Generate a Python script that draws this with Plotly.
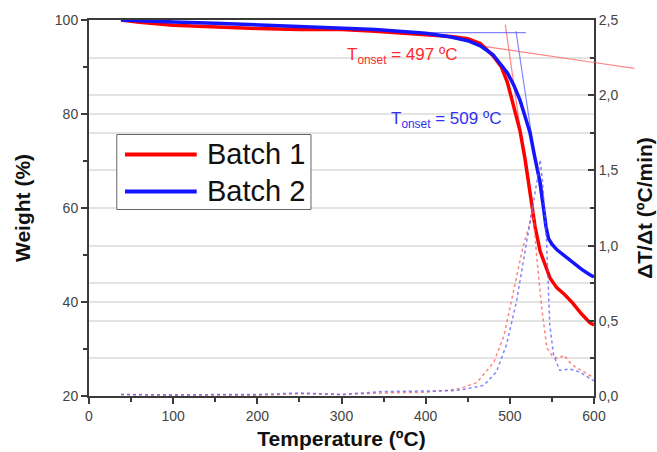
import plotly.graph_objects as go

# ---- data ----
temp_b1 = [38, 60, 100, 150, 200, 250, 300, 340, 400, 430, 450, 465, 480, 490, 497, 505, 512, 518, 524, 530, 536, 542, 548, 556, 565, 575, 585, 595, 600]
weight_b1 = [100, 99.5, 98.9, 98.5, 98.2, 98.0, 98.0, 97.6, 96.9, 96.5, 96.0, 95.0, 92.4, 90.0, 86.8, 81.5, 76.5, 70.5, 63.5, 56.0, 50.8, 48.0, 45.0, 43.0, 41.6, 39.7, 37.5, 35.6, 35.1]

temp_b2 = [38, 60, 100, 150, 200, 250, 300, 340, 400, 430, 450, 465, 480, 490, 497, 505, 512, 518, 524, 530, 536, 540, 543, 546, 550, 556, 565, 575, 585, 595, 600]
weight_b2 = [100, 99.8, 99.6, 99.3, 99.0, 98.7, 98.3, 98.0, 97.2, 96.4, 95.6, 94.5, 92.6, 90.5, 88.8, 86.0, 83.0, 79.5, 76.0, 70.5, 65.4, 60.0, 56.0, 53.5, 52.3, 51.1, 49.8, 48.3, 47.0, 45.8, 45.3]

dtemp_b1 = [38, 100, 150, 200, 250, 300, 350, 400, 430, 441, 461, 481, 493, 504, 516, 523.5, 527, 532, 538, 544, 550, 556, 561, 565, 570, 576, 588, 600]
deriv_b1 = [0.01, 0.01, 0.01, 0.005, 0.015, 0.01, 0.02, 0.025, 0.04, 0.05, 0.09, 0.225, 0.40, 0.69, 1.0, 1.14, 1.27, 0.92, 0.58, 0.32, 0.27, 0.25, 0.26, 0.27, 0.23, 0.20, 0.16, 0.12]

dtemp_b2 = [38, 100, 150, 200, 250, 300, 350, 400, 430, 441, 469, 484, 496, 508, 518, 524, 532, 536, 539, 543.5, 547.5, 552, 559.5, 571, 583, 600]
deriv_b2 = [0.01, 0.005, 0.01, 0.01, 0.02, 0.01, 0.03, 0.03, 0.035, 0.04, 0.07, 0.16, 0.34, 0.63, 0.96, 1.14, 1.42, 1.57, 1.42, 1.04, 0.47, 0.27, 0.17, 0.18, 0.16, 0.10]

# tangent construction lines (onset determination)
tan_b1_base_x = [469, 648]
tan_b1_base_y = [94.4, 89.7]
tan_b1_steep_x = [494.6, 521]
tan_b1_steep_y = [99.0, 66.0]
tan_b2_base_x = [354, 519]
tan_b2_base_y = [97.3, 97.3]
tan_b2_steep_x = [507.3, 538]
tan_b2_steep_y = [97.6, 61.0]

series_names = ["Batch 1", "Batch 2"]
onset_labels = ["T<sub>onset</sub> = 497 ºC", "T<sub>onset</sub> = 509 ºC"]
onset_pos_x = [304, 357]
onset_pos_y = [92.4, 78.8]

X_RANGE = [0, 600]
Y_RANGE = [20, 100]
Y2_RANGE = [0, 2.5]

RED = "#ff0000"
BLUE = "#1414ff"
LRED = "rgba(255,90,90,0.75)"
LBLUE = "rgba(90,90,255,0.75)"
FONT = "Liberation Sans, Arial, sans-serif"

fig = go.Figure()

# derivative curves (right axis, dotted)
fig.add_trace(go.Scatter(x=dtemp_b1, y=deriv_b1, yaxis="y2", mode="lines",
                         line=dict(color=LRED, width=1.5, dash="dot"), showlegend=False,
                         name=series_names[0] + " ΔT/Δt"))
fig.add_trace(go.Scatter(x=dtemp_b2, y=deriv_b2, yaxis="y2", mode="lines",
                         line=dict(color=LBLUE, width=1.5, dash="dot"), showlegend=False,
                         name=series_names[1] + " ΔT/Δt"))

# tangent lines
def clip_to_range(xs, ys):
    x0, x1 = xs
    y0, y1 = ys
    if x1 > X_RANGE[1]:
        y1 = y0 + (y1 - y0) * (X_RANGE[1] - x0) / (x1 - x0)
        x1 = X_RANGE[1]
    return [x0, x1], [y0, y1]

cx, cy = clip_to_range(tan_b1_base_x, tan_b1_base_y)
fig.add_trace(go.Scatter(x=cx, y=cy, mode="lines", line=dict(color=LRED, width=1.2), showlegend=False))
fig.add_trace(go.Scatter(x=tan_b1_steep_x, y=tan_b1_steep_y, mode="lines", line=dict(color=LRED, width=1.2), showlegend=False))
fig.add_trace(go.Scatter(x=tan_b2_base_x, y=tan_b2_base_y, mode="lines", line=dict(color=LBLUE, width=1.2), showlegend=False))
fig.add_trace(go.Scatter(x=tan_b2_steep_x, y=tan_b2_steep_y, mode="lines", line=dict(color=LBLUE, width=1.2), showlegend=False))

# overhang of baseline tangent beyond the x range (paper coords derived from the axis ranges)
def to_paper_x(v):
    return (v - X_RANGE[0]) / (X_RANGE[1] - X_RANGE[0])

def to_paper_y(v):
    return (v - Y_RANGE[0]) / (Y_RANGE[1] - Y_RANGE[0])

fig.add_shape(type="line", xref="paper", yref="paper",
              x0=to_paper_x(cx[1]), y0=to_paper_y(cy[1]),
              x1=to_paper_x(tan_b1_base_x[1]), y1=to_paper_y(tan_b1_base_y[1]),
              line=dict(color=LRED, width=1.2))

# main weight curves
fig.add_trace(go.Scatter(x=temp_b1, y=weight_b1, mode="lines", name=series_names[0],
                         line=dict(color=RED, width=3.5), showlegend=False))
fig.add_trace(go.Scatter(x=temp_b2, y=weight_b2, mode="lines", name=series_names[1],
                         line=dict(color=BLUE, width=3.5), showlegend=False))

for txt, ax_, ay_, col in zip(onset_labels, onset_pos_x, onset_pos_y, ["#ff2a2a", "#3030f0"]):
    fig.add_annotation(x=ax_, y=ay_, xref="x", yref="y", text=txt, showarrow=False,
                       xanchor="left", yanchor="middle", font=dict(family=FONT, size=17, color=col))

# legend box (drawn in paper coordinates)
fig.add_shape(type="rect", xref="paper", yref="paper", x0=0.055, x1=0.4396, y0=0.496, y1=0.6955,
              line=dict(color="#666", width=1), fillcolor="white", layer="above")
for name, col, yy in zip(series_names, [RED, BLUE], [0.6423, 0.5439]):
    fig.add_shape(type="line", xref="paper", yref="paper", x0=0.0713, x1=0.2133, y0=yy, y1=yy,
                  line=dict(color=col, width=4), layer="above")
    fig.add_annotation(x=0.2297, y=yy, xref="paper", yref="paper", text=name, showarrow=False,
                       xanchor="left", yanchor="middle", font=dict(family=FONT, size=29, color="#111"))

axis_line = "#3a3a3a"
tickfont = dict(family=FONT, size=14, color="#444")
titlefont = dict(family=FONT, size=21, color="#111", weight="bold")

fig.update_layout(
    width=657, height=452,
    margin=dict(l=89, r=63, t=20, b=56),
    paper_bgcolor="white", plot_bgcolor="white",
    separators=", ",
    font=dict(family=FONT),
    xaxis=dict(range=X_RANGE, dtick=100, tick0=0, showgrid=False, zeroline=False, automargin=False,
               showline=True, linecolor=axis_line, linewidth=2, mirror=True,
               ticks="outside", ticklen=6, tickwidth=1.5, tickcolor=axis_line,
               minor=dict(dtick=50, ticklen=4, tickwidth=1.5, tickcolor=axis_line, ticks="outside"),
               tickfont=tickfont,
               title=dict(text="Temperature (ºC)", font=titlefont, standoff=9)),
    yaxis=dict(range=Y_RANGE, dtick=20, tick0=0, showgrid=True, gridcolor="#e4e4e4", gridwidth=2,
               zeroline=False, showline=True, linecolor=axis_line, linewidth=2, automargin=False,
               ticks="outside", ticklen=6, tickwidth=1.5, tickcolor=axis_line,
               minor=dict(dtick=10, ticklen=4, tickwidth=1.5, tickcolor=axis_line, ticks="outside", showgrid=False),
               tickfont=tickfont,
               title=dict(text="Weight (%)", font=titlefont, standoff=18)),
    yaxis2=dict(range=Y2_RANGE, dtick=0.5, tick0=0, overlaying="y", side="right", automargin=False,
                showgrid=True, gridcolor="#e4e4e4", gridwidth=2, zeroline=False,
                showline=True, linecolor=axis_line, linewidth=2,
                ticks="inside", ticklen=6, tickwidth=1.5, tickcolor=axis_line,
                tickformat=".1f",
                minor=dict(dtick=0.25, ticklen=4, tickwidth=1.5, tickcolor=axis_line, ticks="inside",
                           showgrid=True, gridcolor="#e4e4e4", gridwidth=2),
                tickfont=tickfont,
                title=dict(text="ΔT/Δt (ºC/min)", font=titlefont, standoff=20)),
    showlegend=False,
)

fig.write_html("out.html")
